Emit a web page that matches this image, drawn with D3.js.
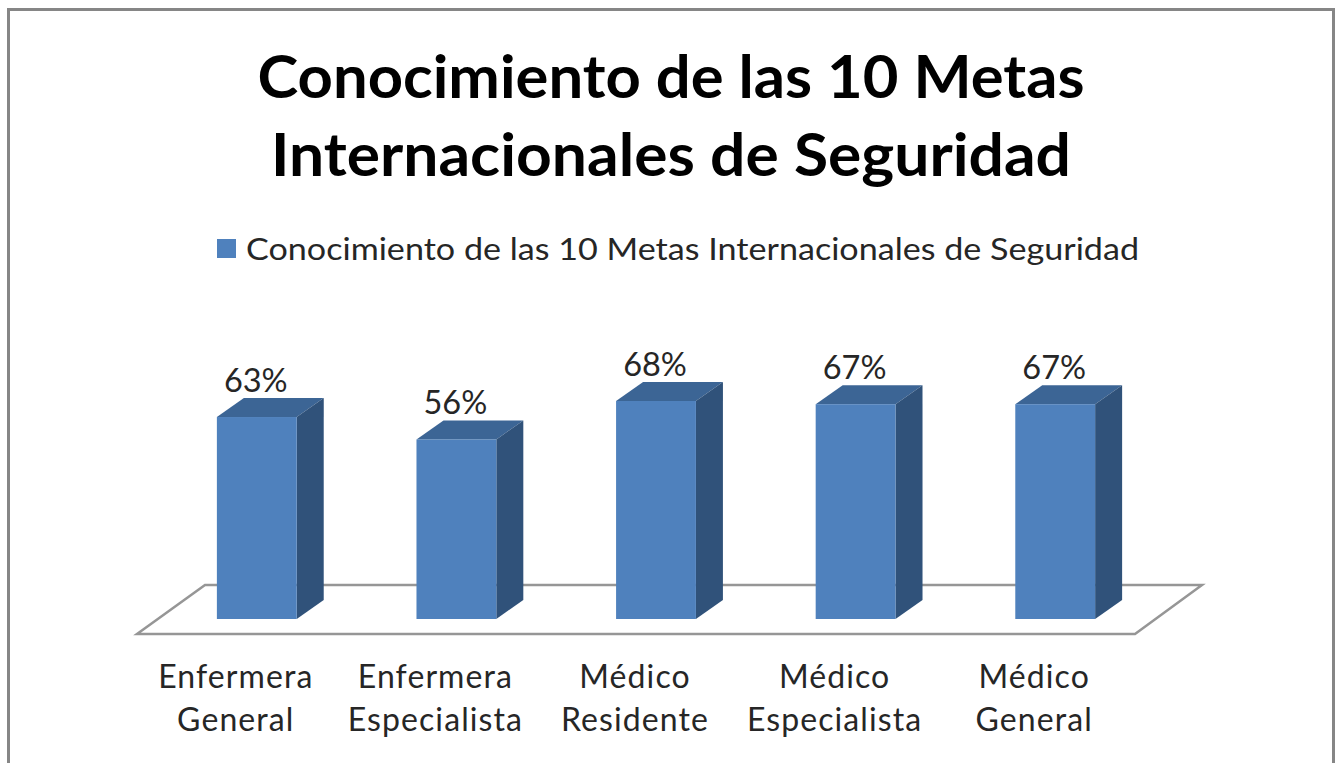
<!DOCTYPE html>
<html><head><meta charset="utf-8">
<script src="https://cdnjs.cloudflare.com/ajax/libs/d3/7.8.5/d3.min.js"></script>
<style>html,body{margin:0;padding:0;background:#fff;overflow:hidden}svg{display:block}text{font-family:Lato,"Open Sans",sans-serif}</style>
</head><body><svg id="c" width="1340" height="763"></svg>
<script>
const categories = ["Enfermera General","Enfermera Especialista","Médico Residente","Médico Especialista","Médico General"];
const categoryLines = [["Enfermera","General"],["Enfermera","Especialista"],["Médico","Residente"],["Médico","Especialista"],["Médico","General"]];
const values = [63,56,68,67,67];
const titleLines = ["Conocimiento de las 10 Metas","Internacionales de Seguridad"];
const seriesName = "Conocimiento de las 10 Metas Internacionales de Seguridad";

const svg = d3.select("#c");
const base = 619, dx = 27, dy = 19;
const x = d3.scaleBand().domain(categories).range([157,1155]).paddingInner(.6).paddingOuter(.3);
const y = d3.scaleLinear().domain([0,100]).range([base,base-320.6]);
const path = d3.line();

// frame
svg.append("path").attr("d","M8.5,770V9.5H1333.5V770").attr("fill","#fff").attr("stroke","#868686").attr("stroke-width",3);

// title
svg.append("g").selectAll("text").data(titleLines).join("text")
  .attr("x",671).attr("y",(d,i)=>98+i*78).attr("text-anchor","middle")
  .attr("font-size",60).attr("font-weight",700).attr("fill","#000")
  .attr("textLength",(d,i)=>[827,800][i]).attr("lengthAdjust","spacingAndGlyphs").text(d=>d);

// legend
svg.append("rect").attr("x",217).attr("y",239).attr("width",19).attr("height",19).attr("fill","#4f81bd");
svg.append("text").attr("x",246).attr("y",260).attr("font-size",30).attr("fill","#262626")
  .attr("textLength",893).attr("lengthAdjust","spacingAndGlyphs").text(seriesName);

// floor
svg.append("path").attr("d",path([[137,634],[1135,634],[1202,585],[205,585]])+"Z")
  .attr("fill","#fff").attr("stroke","#969696").attr("stroke-width",2.5);

// bars
const bars = svg.append("g").selectAll("g").data(categories).join("g");
const vx = i => x(categories[i]), vy = i => y(values[i]), w = x.bandwidth();
bars.append("path").attr("fill","#3c6595").attr("d",(d,i)=>path([[vx(i),vy(i)],[vx(i)+w,vy(i)],[vx(i)+w+dx,vy(i)-dy],[vx(i)+dx,vy(i)-dy]])+"Z");
bars.append("path").attr("fill","#30527a").attr("d",(d,i)=>path([[vx(i)+w,vy(i)],[vx(i)+w+dx,vy(i)-dy],[vx(i)+w+dx,base-dy],[vx(i)+w,base]])+"Z");
bars.append("rect").attr("x",(d,i)=>vx(i)).attr("y",(d,i)=>vy(i)).attr("width",w).attr("height",(d,i)=>base-vy(i)).attr("fill","#4f81bd");
bars.append("text").attr("x",(d,i)=>vx(i)+w/2-1).attr("y",(d,i)=>vy(i)-25).attr("text-anchor","middle")
  .attr("font-size",32.5).attr("fill","#262626").text((d,i)=>values[i]+"%");

// category axis
const ax = svg.append("g").attr("transform",`translate(-21,${base})`).call(d3.axisBottom(x).tickSize(0).tickFormat(""));
ax.select(".domain").remove();
ax.selectAll(".tick text").each(function(d){
  const lines = categoryLines[categories.indexOf(d)];
  d3.select(this).attr("y",0).attr("dy",null).attr("font-size",32).attr("letter-spacing",1.1).attr("font-family",'Lato,"Open Sans",sans-serif').attr("fill","#262626")
    .selectAll("tspan").data(lines).join("tspan").attr("x",0).attr("y",(l,i)=>69+i*43).text(l=>l);
});
</script></body></html>
